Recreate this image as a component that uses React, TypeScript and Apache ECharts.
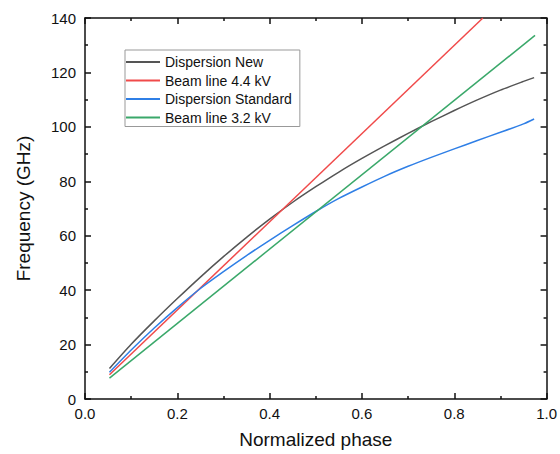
import React, { useEffect, useRef } from "react";
import * as echarts from "echarts";

const seriesNames = ["Dispersion New", "Beam line 4.4 kV", "Dispersion Standard", "Beam line 3.2 kV"];

const dispersionNew: [number, number][] = [
  [0.053, 11.2], [0.1, 20.1], [0.15, 28.7], [0.2, 36.9], [0.25, 44.8], [0.3, 52.3],
  [0.35, 59.4], [0.4, 66.1], [0.45, 72.3], [0.5, 78.0], [0.55, 83.4], [0.6, 88.4],
  [0.65, 93.1], [0.7, 97.6], [0.75, 101.9], [0.8, 106.0], [0.85, 109.9], [0.9, 113.5],
  [0.95, 116.7], [0.973, 118.1],
];

const beam44: [number, number][] = [[0.053, 8.9], [0.862, 140]];

const dispersionStd: [number, number][] = [
  [0.053, 9.8], [0.1, 18.0], [0.15, 26.1], [0.2, 33.6], [0.25, 40.6], [0.3, 46.8],
  [0.35, 52.7], [0.4, 58.3], [0.45, 63.7], [0.5, 68.9], [0.55, 73.7], [0.6, 77.9],
  [0.65, 81.9], [0.7, 85.5], [0.75, 88.8], [0.8, 91.9], [0.85, 95.0], [0.9, 98.0],
  [0.95, 101.1], [0.973, 102.9],
];

const beam32: [number, number][] = [[0.053, 7.7], [0.975, 133.6]];

const colors = ["#555555", "#f04a4a", "#2f7fe6", "#3aa86a"];

export default function App() {
  const ref = useRef<HTMLDivElement>(null);
  useEffect(() => {
    document.body.style.margin = "0";
    const chart = echarts.init(ref.current!, undefined, { renderer: "svg" });
    const font = "Liberation Sans, Arial, sans-serif";
    const axisLine = { show: true, onZero: false, lineStyle: { color: "#111", width: 1.5 } };
    const tick = { show: true, inside: true, length: 6, lineStyle: { color: "#111", width: 1.5 } };
    const minor = { show: true, splitNumber: 2, length: 3, lineStyle: { color: "#111", width: 1.5 } };
    const mk = (name: string, data: [number, number][], i: number) => ({
      name,
      type: "line",
      data,
      showSymbol: false,
      smooth: data.length > 2 ? 0.25 : false,
      clip: true,
      lineStyle: { color: colors[i], width: 1.5 },
      itemStyle: { color: colors[i] },
    });
    chart.setOption({
      animation: false,
      textStyle: { fontFamily: font },
      grid: { left: 85, right: 10, top: 18, bottom: 54 },
      legend: {
        orient: "vertical",
        left: 125,
        top: 50,
        data: seriesNames,
        icon: "rect",
        itemWidth: 34,
        itemHeight: 2,
        itemGap: 4.5,
        padding: [5, 8, 2, 1],
        borderColor: "#999",
        borderWidth: 1,
        textStyle: { fontSize: 14, color: "#111", lineHeight: 14, fontFamily: font },
      },
      xAxis: [
        {
          type: "value",
          min: 0,
          max: 1,
          interval: 0.2,
          name: "Normalized phase",
          nameLocation: "middle",
          nameGap: 31,
          nameTextStyle: { fontSize: 19, color: "#111", fontFamily: font },
          axisLine,
          axisTick: tick,
          minorTick: minor,
          splitLine: { show: false },
          axisLabel: { fontSize: 15, color: "#111", margin: 7, formatter: (v: number) => v.toFixed(1), fontFamily: font },
        },
        {
          type: "value",
          position: "top",
          min: 0,
          max: 1,
          interval: 0.2,
          axisLine,
          axisTick: tick,
          minorTick: minor,
          splitLine: { show: false },
          axisLabel: { show: false },
        },
      ],
      yAxis: [
        {
          type: "value",
          min: 0,
          max: 140,
          interval: 20,
          name: "Frequency (GHz)",
          nameLocation: "middle",
          nameGap: 52,
          nameTextStyle: { fontSize: 19, color: "#111", fontFamily: font },
          axisLine,
          axisTick: tick,
          minorTick: minor,
          splitLine: { show: false },
          axisLabel: { fontSize: 15, color: "#111", margin: 9, fontFamily: font },
        },
        {
          type: "value",
          position: "right",
          min: 0,
          max: 140,
          interval: 20,
          axisLine,
          axisTick: tick,
          minorTick: minor,
          splitLine: { show: false },
          axisLabel: { show: false },
        },
      ],
      series: [
        mk(seriesNames[0], dispersionNew, 0),
        mk(seriesNames[1], beam44, 1),
        mk(seriesNames[2], dispersionStd, 2),
        mk(seriesNames[3], beam32, 3),
      ],
    });
    return () => chart.dispose();
  }, []);
  return <div ref={ref} style={{ width: 560, height: 454 }} />;
}
